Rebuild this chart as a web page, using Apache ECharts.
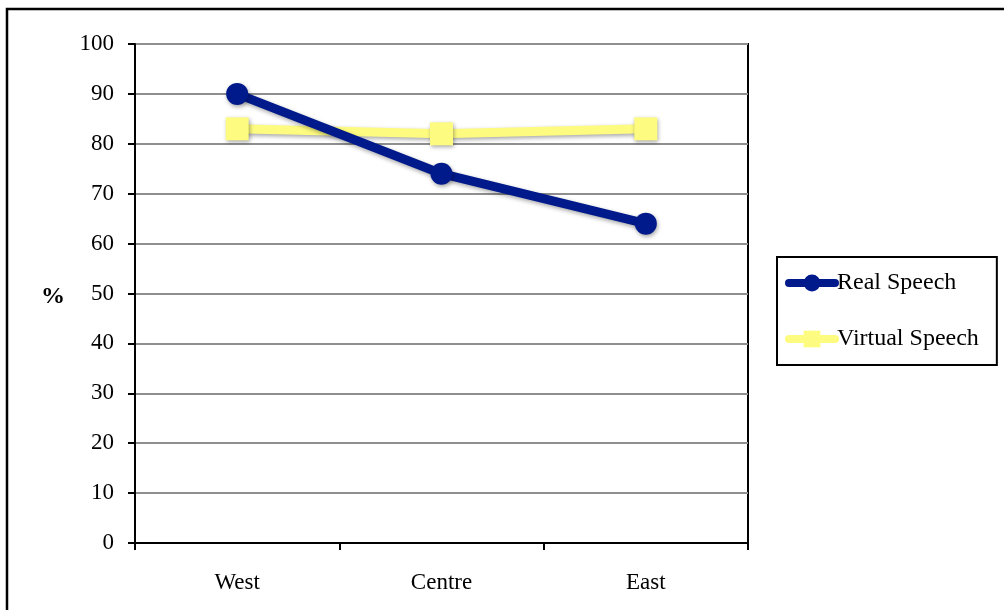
<!DOCTYPE html>
<html>
<head>
<meta charset="utf-8">
<script src="https://cdn.jsdelivr.net/npm/echarts@6/dist/echarts.min.js"></script>
<style>
  html, body { margin: 0; padding: 0; background: #fff; }
  #chart { width: 1004px; height: 610px; }
</style>
</head>
<body>
<div id="chart"></div>
<script>
// Share of speech by region (%)
const regions = ['West', 'Centre', 'East'];
const realSpeech = [90, 74, 64];
const virtualSpeech = [83, 82, 83];
const yTicks = { min: 0, max: 100, step: 10 };

const serif = '"Liberation Serif", "DejaVu Serif", serif';
const shadow = { shadowColor: 'rgba(0,0,0,0.35)', shadowBlur: 4, shadowOffsetX: 1, shadowOffsetY: 2 };

const chart = echarts.init(document.getElementById('chart'), null, { renderer: 'canvas' });

chart.setOption({
  animation: false,
  backgroundColor: '#ffffff',
  grid: {
    left: 135, top: 44, width: 613, height: 499,
    show: true, borderColor: '#000', borderWidth: 2, backgroundColor: 'transparent'
  },
  legend: {
    orient: 'vertical',
    left: 777, top: 257,
    padding: [14, 18, 14, 8],
    itemWidth: 46, itemHeight: 21,
    itemGap: 32,
    borderColor: '#000', borderWidth: 2,
    lineStyle: { width: 8, cap: 'round' },
    textStyle: { fontFamily: serif, fontSize: 24, lineHeight: 24, color: '#000', padding: [0, 0, 0, -3] },
    data: ['Real Speech', 'Virtual Speech']
  },
  xAxis: {
    type: 'category',
    data: regions,
    boundaryGap: true,
    axisLine: { lineStyle: { color: '#000', width: 2 } },
    axisTick: { show: true, inside: false, length: 7, alignWithLabel: false, lineStyle: { color: '#000', width: 2 } },
    axisLabel: { fontFamily: serif, fontSize: 23, color: '#000', margin: 28 },
    splitLine: { show: false }
  },
  yAxis: {
    type: 'value',
    min: yTicks.min, max: yTicks.max, interval: yTicks.step,
    axisLine: { show: true, lineStyle: { color: '#000', width: 2 } },
    axisTick: { show: true, inside: false, length: 7, lineStyle: { color: '#000', width: 2 } },
    axisLabel: { fontFamily: serif, fontSize: 23, color: '#000', margin: 21 },
    splitLine: { show: true, lineStyle: { color: '#8f8f8f', width: 2 } }
  },
  series: [
    {
      name: 'Real Speech',
      type: 'line',
      data: realSpeech,
      symbol: 'circle',
      symbolSize: 22,
      lineStyle: Object.assign({ color: '#001a8c', width: 9 }, shadow),
      itemStyle: Object.assign({ color: '#001a8c' }, shadow),
      z: 3
    },
    {
      name: 'Virtual Speech',
      type: 'line',
      data: virtualSpeech,
      symbol: 'rect',
      symbolSize: 23,
      lineStyle: Object.assign({ color: '#fefc80', width: 9 }, shadow),
      itemStyle: Object.assign({ color: '#fefc80' }, shadow),
      z: 2
    }
  ],
  graphic: [
    {
      type: 'rect',
      shape: { x: 7, y: 9, width: 1010, height: 620 },
      style: { fill: 'none', stroke: '#000', lineWidth: 2.5 },
      silent: true
    },
    {
      type: 'text',
      left: 41, top: 285,
      style: { text: '%', fontFamily: serif, fontSize: 24, fontWeight: 'bold', fill: '#000' }
    }
  ]
});
</script>
</body>
</html>
